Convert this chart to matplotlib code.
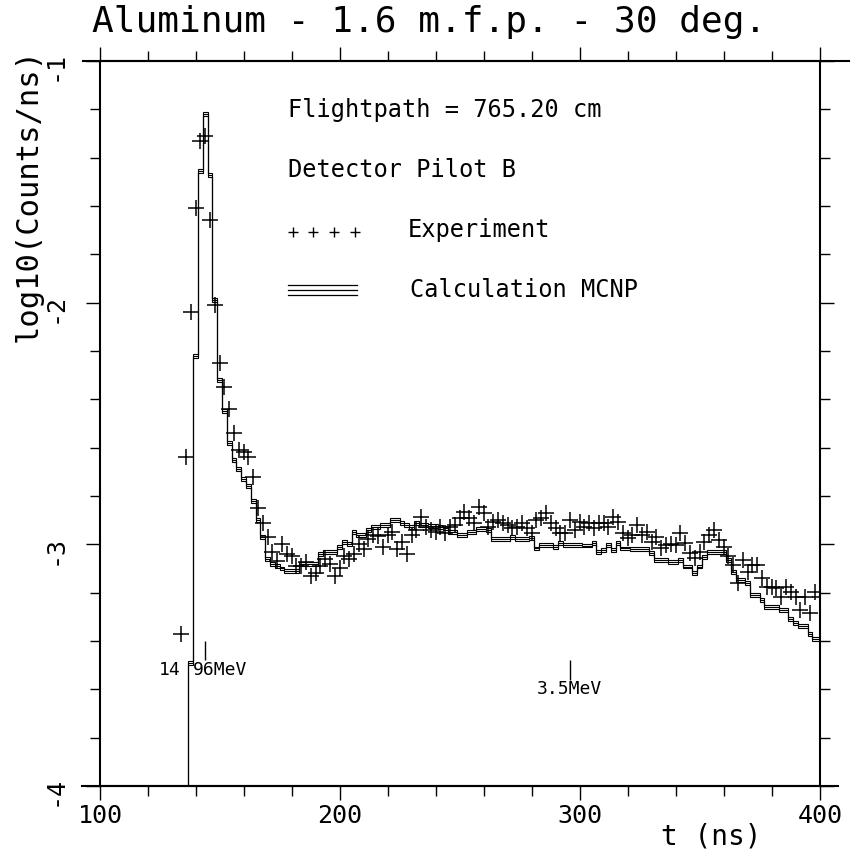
import numpy as np
import matplotlib.pyplot as plt
from matplotlib.ticker import MultipleLocator

plt.rcParams['font.family'] = ['DejaVu Sans Mono', 'DejaVu Sans']

# time-of-flight channels (ns): first channel centre and width
exp_t0 = 133.8
calc_t0 = 136.8      # first bin edge of the calculation
chan_w = 2.0

# experiment, log10(counts/ns), one value per channel from 133.8 ns
exp_y = [-3.37, -2.64, -2.04, -1.61, -1.33, -1.31, -1.66, -2.01, -2.25, -2.35,
         -2.44, -2.54, -2.61, -2.62, -2.64, -2.72, -2.85, -2.91, -2.97, -3.03,
         -3.07, -3.00, -3.04, -3.05, -3.09, -3.09, -3.075, -3.13, -3.12, -3.09,
         -3.06, -3.08, -3.13, -3.10, -3.05, -3.06, -3.04, -3.00, -3.02, -2.98,
         -2.96, -2.965, -3.01, -2.96, -2.95, -3.02, -2.99, -3.04, -2.96, -2.94,
         -2.885, -2.927, -2.94, -2.948, -2.93, -2.954, -2.93, -2.92, -2.892, -2.865,
         -2.892, -2.913, -2.844, -2.872, -2.927, -2.906, -2.90, -2.913, -2.92, -2.934,
         -2.927, -2.913, -2.934, -2.954, -2.90, -2.892, -2.872, -2.913, -2.934, -2.954,
         -2.954, -2.90, -2.94, -2.906, -2.927, -2.913, -2.934, -2.913, -2.913, -2.927,
         -2.885, -2.906, -2.954, -2.975, -2.961, -2.92, -2.961, -2.948, -2.989, -2.968,
         -3.017, -3.003, -3.00, -3.003, -2.954, -2.996, -3.037, -3.058, -3.03, -2.989,
         -2.961, -2.94, -2.982, -3.01, -3.05, -3.085, -3.16, -3.065, -3.113, -3.085,
         -3.085, -3.14, -3.175, -3.175, -3.182, -3.217, -3.175, -3.196, -3.217, -3.27,
         -3.217, -3.285, -3.196, -3.22]

# MCNP calculation, one value per 2 ns bin from 136.8 ns
calc_y = [-3.49, -2.22, -1.455, -1.22, -1.47, -1.99, -2.32, -2.45, -2.58, -2.65,
          -2.69, -2.73, -2.76, -2.82, -2.90, -2.97, -3.06, -3.08, -3.09, -3.10,
          -3.11, -3.11, -3.11, -3.08, -3.08, -3.08, -3.08, -3.04, -3.03, -3.03,
          -3.03, -3.01, -2.99, -3.00, -2.95, -2.96, -2.96, -2.94, -2.93, -2.93,
          -2.92, -2.92, -2.90, -2.90, -2.91, -2.92, -2.93, -2.91, -2.92, -2.92,
          -2.925, -2.925, -2.93, -2.934, -2.948, -2.948, -2.961, -2.961, -2.948, -2.948,
          -2.938, -2.938, -2.94, -2.979, -2.979, -2.979, -2.979, -2.971, -2.979, -2.979,
          -2.979, -2.975, -3.017, -3.003, -3.003, -3.003, -3.01, -2.996, -3.003, -3.003,
          -3.003, -3.003, -3.005, -3.005, -2.996, -3.03, -3.023, -3.003, -3.023, -2.996,
          -3.017, -3.017, -3.02, -3.02, -3.02, -3.02, -3.037, -3.065, -3.065, -3.065,
          -3.072, -3.072, -3.065, -3.092, -3.092, -3.12, -3.092, -3.051, -3.03, -3.03,
          -3.03, -3.03, -3.065, -3.113, -3.148, -3.148, -3.16, -3.21, -3.21, -3.23,
          -3.258, -3.258, -3.258, -3.27, -3.27, -3.31, -3.325, -3.337, -3.337, -3.37,
          -3.39, -3.39]
calc_err = 0.008   # half width of the calculation band (log10)

# energy markers
mark_t = [143.8, 295.8]
mark_top = [-3.40, -3.48]
mark_bot = [-3.48, -3.56]

exp_y = np.array(exp_y)
calc_y = np.array(calc_y)
exp_t = exp_t0 + chan_w * np.arange(len(exp_y))
calc_edges = calc_t0 + chan_w * np.arange(len(calc_y) + 1)

fig = plt.figure(figsize=(8.51, 8.65), dpi=100)
ax = fig.add_axes([100 / 851, 1 - 786 / 865, 720 / 851, 725 / 865])

# calculation: three stepped lines (value and +/- band)
for off in (-calc_err, 0.0, calc_err):
    ax.stairs(calc_y + off, calc_edges, baseline=-5, color='black', lw=0.8)

ax.plot(exp_t, exp_y, '+', color='black', ms=11, mew=1.1)

# energy marks
ax.vlines(mark_t, mark_bot, mark_top, color='black', lw=1)
ax.text(133.5, -3.52, '14', ha='right', va='center', fontsize=13)
ax.text(138.6, -3.52, '96MeV', ha='left', va='center', fontsize=13)
ax.text(295.4, -3.60, '3.5MeV', ha='center', va='center', fontsize=13)

ax.set_xlim(100, 400)
ax.set_ylim(-4, -1)
ax.set_xticks([100, 200, 300, 400])
ax.set_xticklabels(['100', '200', '300', '400'])
ax.xaxis.set_minor_locator(MultipleLocator(20))
ax.set_yticks([-4, -3, -2, -1])
ax.set_yticklabels(['-4', '-3', '-2', '-1'])
ax.yaxis.set_minor_locator(MultipleLocator(0.2))
ax.tick_params(which='both', direction='out', top=True, right=True, width=1)
ax.tick_params(which='major', length=10)
ax.tick_params(which='minor', length=7)
ax.tick_params(axis='x', labelsize=18, pad=3)
ax.tick_params(axis='y', labelsize=18, labelrotation=90, pad=14)
for s in ax.spines.values():
    s.set_linewidth(1.5)

# frame lines run a little past the corners, as on the plotter output
ax.plot([-0.024, 1.04], [1, 1], color='black', lw=1.5, transform=ax.transAxes,
        clip_on=False)
ax.plot([-0.025, 1.025], [0, 0], color='black', lw=1.5, transform=ax.transAxes,
        clip_on=False)

# legend block
ax.text(0.261, 0.932, 'Flightpath = 765.20 cm', transform=ax.transAxes,
        fontsize=17, va='center')
ax.text(0.261, 0.850, 'Detector Pilot B', transform=ax.transAxes,
        fontsize=17, va='center')
ax.plot([0.268, 0.296, 0.325, 0.354], [0.764] * 4, '+', color='black',
        ms=7.5, mew=1, transform=ax.transAxes)
ax.text(0.428, 0.767, 'Experiment', transform=ax.transAxes, fontsize=17, va='center')
for yy in (0.691, 0.684, 0.677):
    ax.plot([0.261, 0.357], [yy, yy], color='black', lw=0.9, transform=ax.transAxes)
ax.text(0.431, 0.684, 'Calculation MCNP', transform=ax.transAxes, fontsize=17, va='center')

# axis titles
ax.text(-0.1, 0.815, 'log10(Counts/ns)', transform=ax.transAxes, rotation=90,
        ha='center', va='center', fontsize=22)
ax.text(0.849, -0.069, 't (ns)', transform=ax.transAxes, ha='center', va='center',
        fontsize=20)
fig.text(0.504, 0.9746, 'Aluminum - 1.6 m.f.p. - 30 deg.', ha='center', va='center',
         fontsize=26)

fig.savefig('out.png', dpi=100)
